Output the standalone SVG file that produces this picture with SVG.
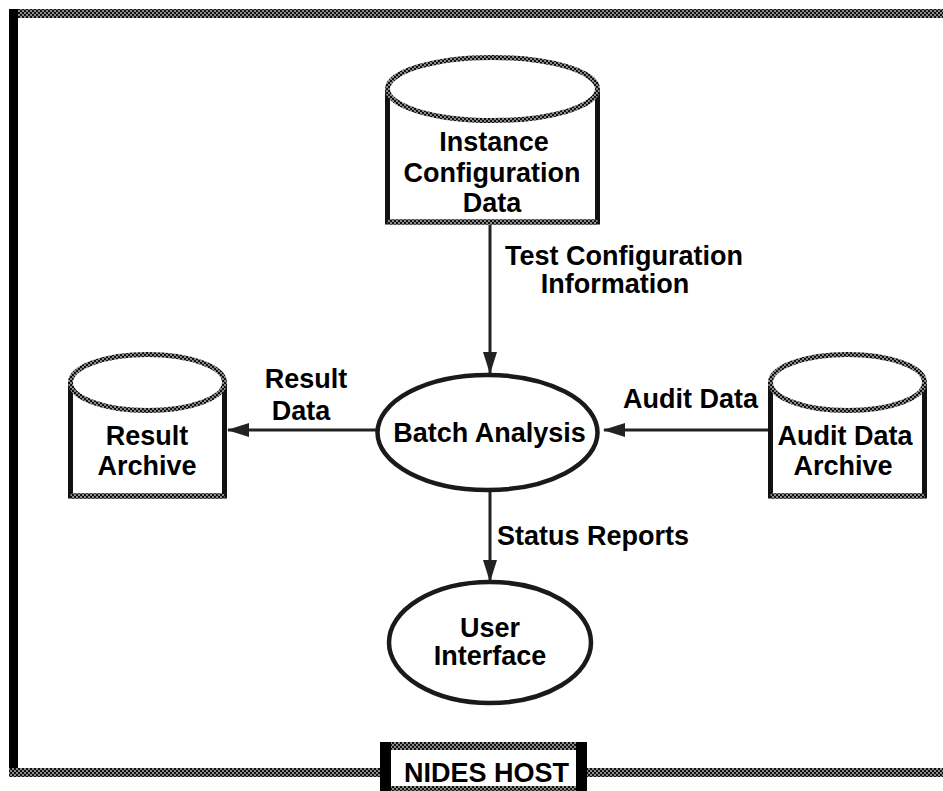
<svg xmlns="http://www.w3.org/2000/svg" width="943" height="791" viewBox="0 0 943 791">
<defs>
<pattern id="ht" width="4" height="4" patternUnits="userSpaceOnUse">
<rect width="4" height="4" fill="#111"/>
<rect x="0" y="0" width="2" height="2" fill="#8a8a8a"/>
<rect x="2" y="2" width="2" height="2" fill="#8a8a8a"/>
</pattern>
<marker id="ah" viewBox="0 0 22 14" refX="21" refY="7" markerWidth="22" markerHeight="14" markerUnits="userSpaceOnUse" orient="auto">
<path d="M0,0 L22,7 L0,14 Z" fill="#222"/>
</marker>
</defs>
<style>
.t{font-family:"Liberation Sans",Arial,Helvetica,sans-serif;font-weight:bold;font-size:27px;fill:#000;}
.m{text-anchor:middle;}
.shape{fill:#fff;stroke:#111;stroke-width:5;}
.rim{fill:#fff;stroke:url(#ht);stroke-width:5;}
.oval{fill:#fff;stroke:#1a1a1a;stroke-width:4.5;}
.conn{fill:none;stroke:#222;stroke-width:3;marker-end:url(#ah);}
</style>
<rect width="943" height="791" fill="#fff"/>

<g id="frame">
<rect x="9" y="9" width="934" height="9" fill="url(#ht)"/>
<rect x="9" y="9" width="9" height="768" fill="#000"/>
<rect x="9" y="768" width="934" height="9" fill="url(#ht)"/>
</g>

<g id="connectors">
<line class="conn" x1="490" y1="225" x2="490" y2="373"/>
<line class="conn" x1="377" y1="430" x2="228" y2="430"/>
<line class="conn" x1="768" y1="430" x2="604" y2="430"/>
<line class="conn" x1="490" y1="492" x2="490" y2="581"/>
</g>

<g id="instance-config-data">
<path class="shape" d="M387.5,89 L387.5,222 L597.5,222 L597.5,89"/>
<line x1="387.5" y1="222" x2="597.5" y2="222" stroke="url(#ht)" stroke-width="5"/>
<ellipse class="rim" cx="492.5" cy="89" rx="105" ry="31.5"/>
<text class="t m" x="494" y="151">Instance</text>
<text class="t m" x="492" y="182">Configuration</text>
<text class="t m" x="492" y="212">Data</text>
</g>

<g id="result-archive">
<path class="shape" d="M70.5,382.5 L70.5,496 L224.5,496 L224.5,382.5"/>
<line x1="70.5" y1="496" x2="224.5" y2="496" stroke="url(#ht)" stroke-width="5"/>
<ellipse class="rim" cx="147.5" cy="382.5" rx="77" ry="28"/>
<text class="t m" x="147" y="445">Result</text>
<text class="t m" x="147" y="475">Archive</text>
</g>

<g id="audit-data-archive">
<path class="shape" d="M770.5,382.5 L770.5,496 L924.5,496 L924.5,382.5"/>
<line x1="770.5" y1="496" x2="924.5" y2="496" stroke="url(#ht)" stroke-width="5"/>
<ellipse class="rim" cx="847.5" cy="382.5" rx="77" ry="28"/>
<text class="t m" x="845" y="445">Audit Data</text>
<text class="t m" x="843" y="475">Archive</text>
</g>

<g id="batch-analysis">
<ellipse class="oval" cx="487.5" cy="432.5" rx="110" ry="57.5"/>
<text class="t m" x="489.5" y="442">Batch Analysis</text>
</g>

<g id="user-interface">
<ellipse class="oval" cx="490" cy="642.5" rx="101" ry="60.5"/>
<text class="t m" x="490" y="637">User</text>
<text class="t m" x="490" y="665">Interface</text>
</g>

<g id="labels">
<text class="t m" x="624" y="265">Test Configuration</text>
<text class="t m" x="615" y="293">Information</text>
<text class="t m" x="306" y="388">Result</text>
<text class="t m" x="301" y="420">Data</text>
<text class="t m" x="690.5" y="408">Audit Data</text>
<text class="t" x="497" y="545">Status Reports</text>
</g>

<g id="nides-host">
<rect x="380" y="742" width="207" height="49" fill="#fff"/>
<rect x="380" y="742" width="207" height="8" fill="url(#ht)"/>
<rect x="380" y="786" width="207" height="5" fill="url(#ht)"/>
<rect x="380" y="742" width="11" height="49" fill="#000"/>
<rect x="576" y="742" width="11" height="49" fill="#000"/>
<text class="t m" x="486.5" y="782">NIDES HOST</text>
</g>
</svg>
